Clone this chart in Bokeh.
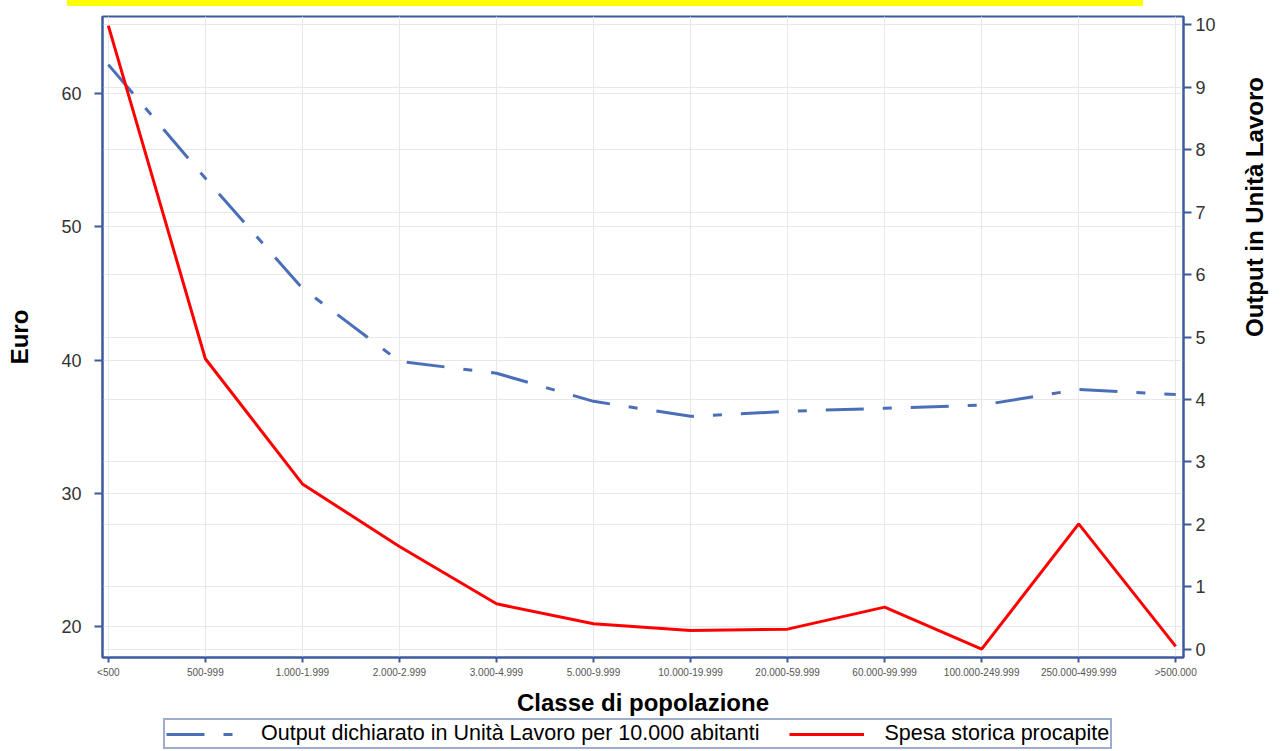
import math
from bokeh.plotting import figure
from bokeh.models import (Range1d, LinearAxis, FixedTicker, Legend, LegendItem,
                          Grid, Div)
from bokeh.layouts import column
from bokeh.embed import file_html
from bokeh.resources import INLINE

# ---- data ----
categories = ["<500", "500-999", "1.000-1.999", "2.000-2.999", "3.000-4.999",
              "5.000-9.999", "10.000-19.999", "20.000-59.999", "60.000-99.999",
              "100.000-249.999", "250.000-499.999", ">500.000"]
spesa_procapite = [65.1, 40.1, 30.7, 26.0, 21.7, 20.2, 19.7, 19.8, 21.45, 18.3, 27.7, 18.5]
output_ul = [9.36, 7.54, 5.78, 4.61, 4.42, 3.97, 3.73, 3.81, 3.86, 3.91, 4.16, 4.08]
euro_ticks = [20, 30, 40, 50, 60]
ul_ticks = [0, 1, 2, 3, 4, 5, 6, 7, 8, 9, 10]

label_output = "Output dichiarato in Unità Lavoro per 10.000 abitanti"
label_spesa = "Spesa storica procapite"

FONT = "Liberation Sans"
FRAME = "#3d5a9e"
BLUE = "#4a6fb8"
RED = "#ff0000"
GRID = "#e8e8e8"
DASH = "38 19 9 19"

x = list(range(len(categories)))

# ---------------- main chart ----------------
p = figure(width=1284, height=712, output_backend="svg", toolbar_location=None,
           x_range=Range1d(-0.06, 11.08), y_range=Range1d(17.67, 65.79),
           min_border_left=102, min_border_right=98, min_border_top=10,
           min_border_bottom=61)
p.background_fill_color = "white"
p.border_fill_color = "white"
p.outline_line_color = FRAME
p.outline_line_width = 2

p.extra_y_ranges = {"ul": Range1d(-0.13, 10.13)}

# x axis
xa = p.xaxis[0]
xa.ticker = FixedTicker(ticks=x)
xa.major_label_overrides = {i: c for i, c in enumerate(categories)}
xa.major_label_text_font = FONT
xa.major_label_text_font_size = "10px"
xa.major_label_text_color = "#555555"
xa.major_label_standoff = 4
xa.major_tick_out = 5
xa.major_tick_in = 0
xa.minor_tick_out = 0
xa.minor_tick_in = 0
xa.axis_line_color = FRAME
xa.axis_line_width = 2
xa.major_tick_line_color = FRAME
xa.major_tick_line_width = 2
xa.axis_label = "Classe di popolazione"
xa.axis_label_text_font = FONT
xa.axis_label_text_font_style = "bold"
xa.axis_label_text_font_size = "24px"
xa.axis_label_text_color = "black"
xa.axis_label_standoff = 8

# left axis
ya = p.yaxis[0]
ya.ticker = FixedTicker(ticks=euro_ticks)
ya.major_label_text_font = FONT
ya.major_label_text_font_size = "18px"
ya.major_label_text_color = "#333333"
ya.major_label_standoff = 13
ya.major_tick_out = 8
ya.major_tick_in = 0
ya.minor_tick_out = 0
ya.minor_tick_in = 0
ya.axis_line_color = FRAME
ya.axis_line_width = 2
ya.major_tick_line_color = FRAME
ya.major_tick_line_width = 2
ya.axis_label = "Euro"
ya.axis_label_text_font = FONT
ya.axis_label_text_font_style = "bold"
ya.axis_label_text_font_size = "24px"
ya.axis_label_text_color = "black"
ya.axis_label_standoff = 25

# right axis
ra = LinearAxis(y_range_name="ul", ticker=FixedTicker(ticks=ul_ticks))
ra.major_label_text_font = FONT
ra.major_label_text_font_size = "18px"
ra.major_label_text_color = "#333333"
ra.major_label_standoff = 4
ra.major_tick_out = 8
ra.major_tick_in = 0
ra.minor_tick_out = 0
ra.minor_tick_in = 0
ra.axis_line_color = FRAME
ra.axis_line_width = 2
ra.major_tick_line_color = FRAME
ra.major_tick_line_width = 2
ra.axis_label = "Output in Unità Lavoro"
ra.axis_label_orientation = math.pi / 2
ra.axis_label_text_font = FONT
ra.axis_label_text_font_style = "bold"
ra.axis_label_text_font_size = "24px"
ra.axis_label_text_color = "black"
ra.axis_label_standoff = 36
p.add_layout(ra, "right")

# grids
p.xgrid.ticker = FixedTicker(ticks=x)
p.xgrid.grid_line_color = GRID
p.ygrid.ticker = FixedTicker(ticks=euro_ticks)
p.ygrid.grid_line_color = GRID
g2 = Grid(dimension=1, ticker=FixedTicker(ticks=ul_ticks), y_range_name="ul",
          grid_line_color=GRID)
p.add_layout(g2)

# lines
r_blue = p.line(x, output_ul, y_range_name="ul", line_color=BLUE, line_width=3,
                line_dash=DASH)
r_red = p.line(x, spesa_procapite, line_color=RED, line_width=3)

# ---------------- legend strip ----------------
lg = figure(width=1284, height=33, output_backend="svg", toolbar_location=None,
            x_range=Range1d(10, 11), y_range=Range1d(10, 11),
            min_border_left=0, min_border_right=0, min_border_top=0,
            min_border_bottom=0, x_axis_type=None, y_axis_type=None)
lg.outline_line_color = None
lg.xgrid.visible = False
lg.ygrid.visible = False
lb = lg.line([0, 1], [0, 1], line_color=BLUE, line_width=3, line_dash=DASH)
lr = lg.line([0, 1], [0, 1], line_color=RED, line_width=3)
legend = Legend(items=[LegendItem(label=label_output, renderers=[lb]),
                       LegendItem(label=label_spesa, renderers=[lr])],
                orientation="horizontal", location=(61, 2),
                border_line_color=FRAME, border_line_width=2,
                background_fill_color="white", background_fill_alpha=1,
                label_text_font=FONT, label_text_font_size="21.5px",
                label_text_color="black",
                glyph_width=75, glyph_height=18, label_height=18,
                padding=1, spacing=30, margin=0, label_standoff=20)
lg.add_layout(legend, "center")

# yellow strip at the top of the picture
bar = Div(text="", width=1076, height=6, margin=(0, 0, 0, 67),
          styles={"background-color": "#ffff00"})

layout = column(bar, p, lg, spacing=0)

open("out.html", "w").write(file_html(layout, INLINE))
